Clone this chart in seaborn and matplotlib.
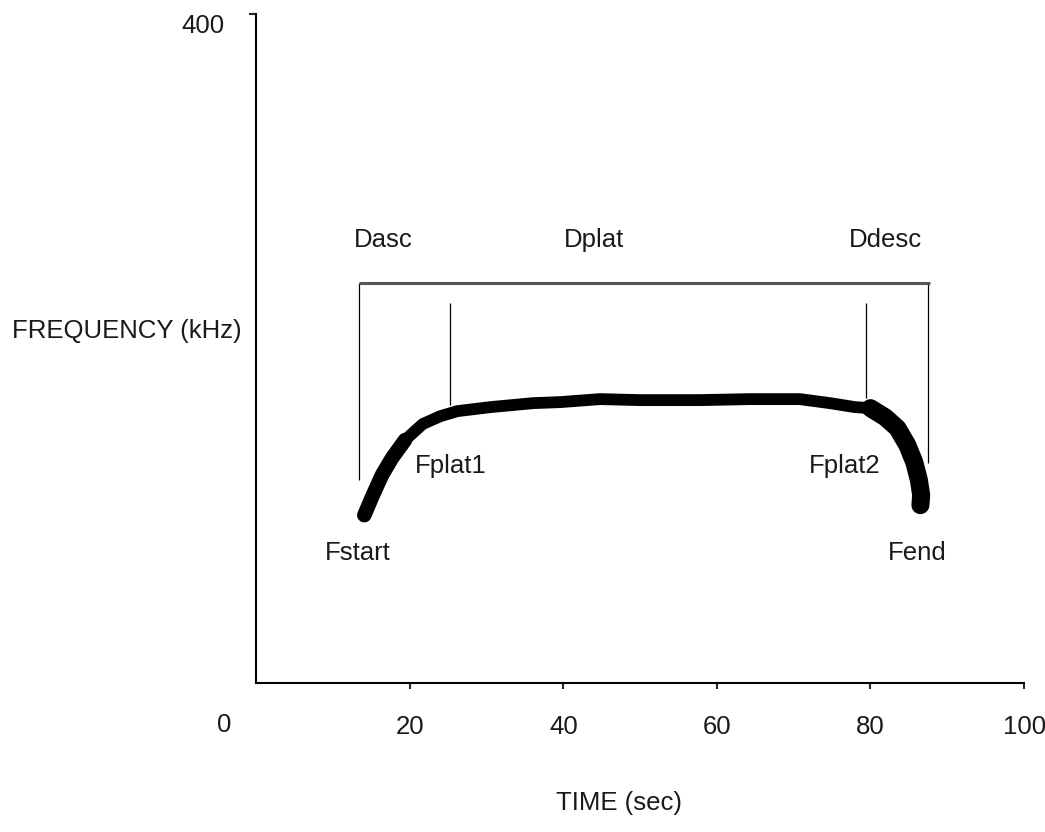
import numpy as np
import pandas as pd
import seaborn as sns
import matplotlib.pyplot as plt

# whistle contour (time in sec, frequency in kHz)
time_pts = [14.1, 15.1, 16.4, 17.7, 19.4, 21.7, 24.0, 26.2, 30.5, 36.1, 39.6, 44.8,
            50.0, 57.8, 64.3, 70.8, 74.7, 78.0, 80.0, 81.9, 83.5, 84.8, 85.7, 86.3,
            86.6, 86.5]
freq_pts = [100.4, 111.2, 124.4, 134.5, 145.3, 154.9, 159.6, 162.6, 165.0, 167.4,
            168.0, 169.8, 169.2, 169.2, 169.8, 169.8, 167.4, 165.0, 164.4, 159.0,
            152.5, 142.3, 132.1, 121.4, 112.4, 106.4]

# thicker parts of the contour
start_time = [14.1, 15.1, 16.4, 17.7, 19.4]
start_freq = [100.4, 111.2, 124.4, 134.5, 145.3]
desc_time = [80.0, 81.9, 83.5, 84.8, 85.7, 86.3, 86.6, 86.5]
desc_freq = [164.4, 159.0, 152.5, 142.3, 132.1, 121.4, 112.4, 106.4]

# vertical marker lines (x, bottom, top)
marker_x = [13.4, 25.3, 79.4, 87.5]
marker_bottom = [121.4, 166.2, 170.4, 131.5]
marker_top = [239.2, 227.2, 227.2, 239.2]

# duration bar
bar_start, bar_end, bar_level = 13.4, 87.8, 239.2

# annotation labels
label_text = ["Dasc", "Dplat", "Ddesc", "Fplat1", "Fplat2", "Fstart", "Fend"]
label_x = [16.5, 44.0, 82.0, 25.4, 76.7, 13.2, 86.1]
label_y = [264.9, 264.9, 264.9, 129.7, 129.7, 77.7, 77.7]

x_ticks = [20, 40, 60, 80, 100]
y_ticks = [400]

sns.set_theme(style="white")
plt.rcParams['font.family'] = ['Liberation Sans', 'DejaVu Sans']
text_color = '#1a1a1a'
fs = 18.5

fig = plt.figure(figsize=(10.45, 8.32), dpi=100)
ax = fig.add_axes([0.245, 0.179, 0.735, 0.804])

contour = pd.DataFrame({'time': time_pts, 'freq': freq_pts})
sns.lineplot(data=contour, x='time', y='freq', sort=False, color='black',
             linewidth=8.5, ax=ax, solid_capstyle='butt', solid_joinstyle='round')
sns.lineplot(x=start_time, y=start_freq, sort=False, color='black',
             linewidth=10.5, ax=ax, solid_capstyle='round', solid_joinstyle='round')
sns.lineplot(x=desc_time, y=desc_freq, sort=False, color='black',
             linewidth=13, ax=ax, solid_capstyle='round', solid_joinstyle='round')

# marker lines and duration bar
ax.vlines(marker_x, marker_bottom, marker_top, color='black', linewidth=0.9)
ax.hlines(bar_level, bar_start, bar_end, color='#555555', linewidth=2.2)

for txt, lx, ly in zip(label_text, label_x, label_y):
    ax.text(lx, ly, txt, ha='center', va='center', fontsize=fs, color=text_color)

ax.set_xlim(0, 100)
ax.set_ylim(0, 400)
ax.set_xticks(x_ticks)
ax.set_yticks(y_ticks)
ax.tick_params(axis='x', direction='out', length=4, width=1.5, pad=19,
               labelsize=fs, labelcolor=text_color, bottom=True)
ax.tick_params(axis='y', direction='out', length=5, width=1.5, pad=18,
               labelsize=fs, labelcolor=text_color, left=True)
for lbl in ax.get_yticklabels():
    lbl.set_va('top')

# origin label
ax.text(-4.2, -25, "0", ha='center', va='center', fontsize=fs, color=text_color,
        clip_on=False)

sns.despine(ax=ax)
for side in ['left', 'bottom']:
    ax.spines[side].set_color('black')
    ax.spines[side].set_linewidth(1.5)

ax.set_xlabel("TIME (sec)", fontsize=fs, color=text_color, va='center')
ax.xaxis.set_label_coords(0.473, -0.179)
ax.set_ylabel("FREQUENCY (kHz)", fontsize=fs, color=text_color, rotation=0,
              ha='center', va='center')
ax.yaxis.set_label_coords(-0.168, 0.526)

fig.savefig("out.png", dpi=100)
